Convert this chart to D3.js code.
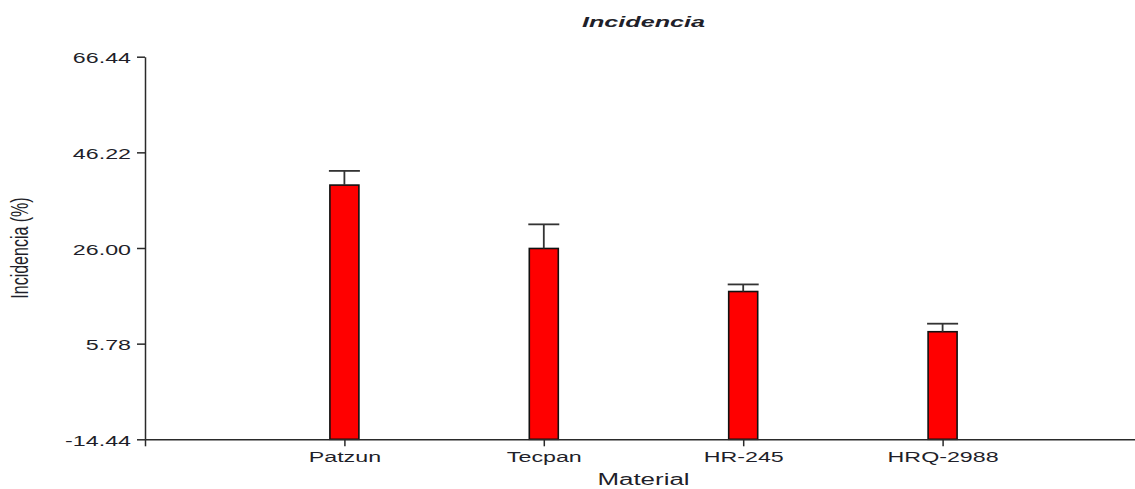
<!DOCTYPE html>
<html>
<head>
<meta charset="utf-8">
<script src="https://cdn.jsdelivr.net/npm/d3@7"></script>
<style>
  html, body { margin: 0; padding: 0; background: #fff; }
  svg { display: block; }
  text { font-family: "Liberation Sans", Arial, sans-serif; fill: #1f1f2a; }
</style>
</head>
<body>
<svg id="chart" width="1135" height="489"></svg>
<script>
// Incidence by material: mean with upper error bar
const categories = ["Patzun", "Tecpan", "HR-245", "HRQ-2988"];
const means = [39.3, 25.9, 16.8, 8.3];
const errors = [3.0, 5.1, 1.5, 1.7];
const yTicks = [-14.44, 5.78, 26.00, 46.22, 66.44];

const title = "Incidencia";
const xTitle = "Material";
const yTitle = "Incidencia (%)";

const margin = { left: 145, right: 1142, top: 56.7, bottom: 439.3 };
const sx = 1.55; // horizontal stretch of the lettering

const svg = d3.select("#chart");

const y = d3.scaleLinear().domain([yTicks[0], yTicks[yTicks.length - 1]]).range([margin.bottom, margin.top]);
const x = d3.scaleLinear().domain([0, categories.length + 1]).range([margin.left, margin.right]);

const barW = 29;
const ink = "#2a2a2a";

// bars
svg.append("g").selectAll("rect")
  .data(means)
  .join("rect")
  .attr("x", (d, i) => x(i + 1) - barW / 2)
  .attr("y", d => y(d))
  .attr("width", barW)
  .attr("height", d => y(yTicks[0]) - y(d))
  .attr("fill", "#ff0000")
  .attr("stroke", "#111")
  .attr("stroke-width", 1.6);

// error bars (upper)
const eb = svg.append("g").attr("stroke", "#333").attr("stroke-width", 1.8).attr("fill", "none");
means.forEach((m, i) => {
  const cx = x(i + 1);
  eb.append("line").attr("x1", cx).attr("x2", cx).attr("y1", y(m)).attr("y2", y(m + errors[i]));
  eb.append("line").attr("x1", cx - 15.5).attr("x2", cx + 15.5).attr("y1", y(m + errors[i])).attr("y2", y(m + errors[i]));
});

// y axis
const gy = svg.append("g").attr("transform", `translate(${margin.left},0)`)
  .call(d3.axisLeft(y).tickValues(yTicks).tickFormat(d => d.toFixed(2)).tickSize(8).tickSizeOuter(0));
gy.selectAll("text")
  .attr("x", null).attr("dy", null).attr("y", null)
  .attr("text-anchor", "end")
  .attr("transform", `translate(-14,6) scale(${sx},1)`)
  .style("font-size", "15px")
  .style("font-family", "'Liberation Sans', Arial, sans-serif")
  .style("fill", "#1f1f2a");

// x axis
const gx = svg.append("g").attr("transform", `translate(0,${margin.bottom})`)
  .call(d3.axisBottom(x).tickValues(d3.range(0, categories.length + 1))
    .tickFormat(i => categories[i - 1] || "").tickSize(7).tickSizeOuter(0));
gx.selectAll("text")
  .attr("y", null).attr("dy", null)
  .attr("transform", `translate(0,22.5) scale(${sx},1)`)
  .style("font-size", "15px")
  .style("font-family", "'Liberation Sans', Arial, sans-serif")
  .style("fill", "#1f1f2a");

[gx, gy].forEach(g => {
  g.select(".domain").attr("stroke", ink).attr("stroke-width", 1.5);
  g.selectAll(".tick line").attr("stroke", ink).attr("stroke-width", 1.5);
});

const midX = (margin.left + margin.right) / 2;

// titles
svg.append("text")
  .attr("transform", `translate(${midX},26.5) scale(1.68,1)`)
  .attr("text-anchor", "middle")
  .style("font-size", "15px").style("font-weight", "bold").style("font-style", "italic")
  .text(title);

svg.append("text")
  .attr("transform", `translate(${midX},485) scale(1.62,1)`)
  .attr("text-anchor", "middle")
  .style("font-size", "16px")
  .text(xTitle);

svg.append("text")
  .attr("transform", `translate(28,${(margin.top + margin.bottom) / 2}) scale(${sx},1) rotate(-90)`)
  .attr("text-anchor", "middle")
  .style("font-size", "16px")
  .text(yTitle);
</script>
</body>
</html>
